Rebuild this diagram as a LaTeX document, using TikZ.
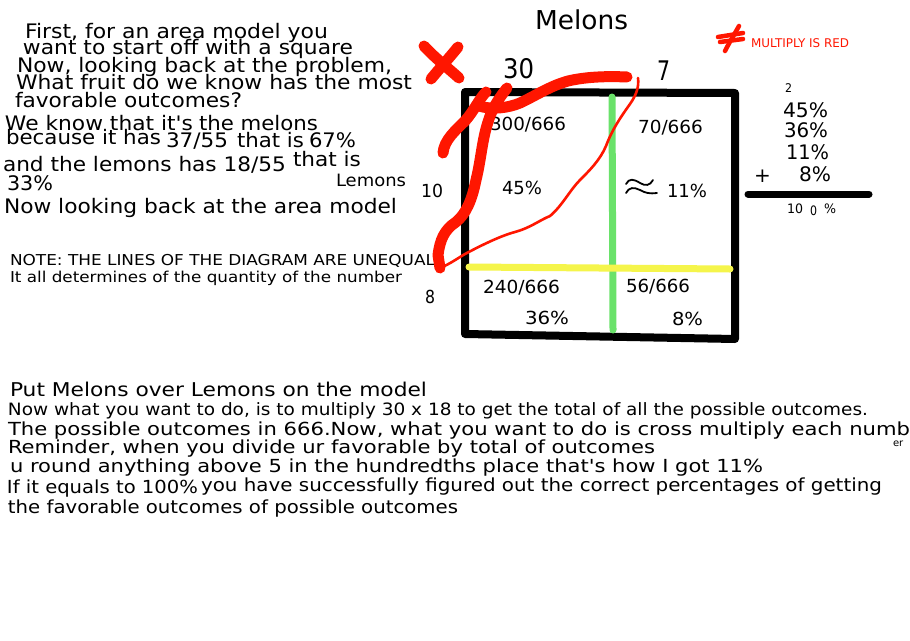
\documentclass[tikz,border=0pt]{standalone}
\usepackage{fontspec}
\usepackage{graphicx}
\setmainfont{DejaVu Sans}[Ligatures=TeXOff]
\definecolor{penred}{RGB}{255,22,0}
\definecolor{pengreen}{RGB}{106,226,106}
\definecolor{penyellow}{RGB}{245,245,75}
\newsavebox\fitbox
\newlength\fitlen
\newcommand\fitx[2]{\sbox\fitbox{#2}\setlength\fitlen{\wd\fitbox}\pgfmathsetmacro\fitf{#1/\fitlen}\scalebox{\fitf}[1]{\usebox\fitbox}}
\newcommand\fs[1]{\fontsize{#1}{#1}\selectfont}
\tikzset{
  txt/.style={anchor=base west, inner sep=0pt, outer sep=0pt},
  boxline/.style={line width=8pt, line cap=round, line join=round, black},
  thickred/.style={line width=11pt, penred, line cap=round, line join=round},
  thinred/.style={line width=2.6pt, penred, line cap=round, line join=round},
  starred/.style={line width=4.5pt, penred, line cap=round},
}
\begin{document}
\begin{tikzpicture}[x=1pt,y=-1pt]
\useasboundingbox[fill=white] (0,0) rectangle (910,640);

% ---------- left explanatory text ----------
\node[txt,font=\fs{20}] (l1) at (25,38) {\fitx{303}{First, for an area model you}};
\node[txt,font=\fs{20}] (l2) at (23,54) {\fitx{330}{want to start off with a square}};
\node[txt,font=\fs{20}] (l3) at (17,72) {\fitx{375}{Now, looking back at the problem,}};
\node[txt,font=\fs{20}] (l4) at (16,89) {\fitx{396}{What fruit do we know has the most}};
\node[txt,font=\fs{20}] (l5) at (15,107) {\fitx{227}{favorable outcomes?}};
\node[txt,font=\fs{20}] (l6a) at (5,130) {\fitx{188}{We know that it's}};
\node[txt,font=\fs{20}] (l6b) at (199,130) {\fitx{119}{the melons}};
\node[txt,font=\fs{20}] (l7a) at (6,144) {\fitx{155}{because it has}};
\node[txt,font=\fs{20}] (l7b) at (166,147) {\fitx{62}{37/55}};
\node[txt,font=\fs{20}] (l7c) at (237,147) {\fitx{67}{that is}};
\node[txt,font=\fs{20}] (l7d) at (309,147) {\fitx{47}{67\%}};
\node[txt,font=\fs{20}] (l8a) at (3,171) {\fitx{283}{and the lemons has 18/55}};
\node[txt,font=\fs{20}] (l8b) at (293,166) {\fitx{68}{that is}};
\node[txt,font=\fs{20}] (l9) at (7,190) {\fitx{46}{33\%}};
\node[txt,font=\fs{20}] (l10) at (4,213) {\fitx{393}{Now looking back at the area model}};
\node[txt,font=\fs{17}] (lem) at (336,186) {\fitx{70}{Lemons}};
\node[txt,font=\fs{18}] (ten) at (421,197) {\fitx{22}{10}};
\node[txt,font=\fs{15}] (note) at (10,265) {\fitx{425}{NOTE: THE LINES OF THE DIAGRAM ARE UNEQUAL}};
\node[txt,font=\fs{15}] (det) at (10,282) {\fitx{392}{It all determines of the quantity of the number}};
\node[txt,font=\fs{18}] (eight) at (425,303) {\fitx{10}{8}};

% ---------- area model ----------
\node[txt,font=\fs{26}] (mel) at (535,29) {\fitx{93}{Melons}};
\node[txt,font=\fs{27}] (thirty) at (503,78) {\fitx{31}{30}};
\node[txt,font=\fs{27}] (seven) at (657,80) {\fitx{13}{7}};

\coordinate (tl) at (465,92);
\coordinate (tr) at (735,93);
\coordinate (br) at (735,339);
\coordinate (bl) at (465,334);
\draw[boxline] (tl) -- (tr) -- (br) -- (bl) -- cycle;

\coordinate (gt) at (612,97);
\coordinate (gb) at (613,330);
\draw[line width=7pt, pengreen, line cap=round] (gt) -- (gb);
\coordinate (yl) at (469,267);
\coordinate (yr) at (730,269);
\draw[line width=7pt, penyellow, line cap=round] (yl) -- (yr);

\node[txt,font=\fs{18}] (c1) at (490,130) {\fitx{76}{300/666}};
\node[txt,font=\fs{18}] (c2) at (638,133) {\fitx{65}{70/666}};
\node[txt,font=\fs{18}] (p1) at (502,194) {\fitx{40}{45\%}};
\node[txt,font=\fs{18}] (p2) at (667,197) {\fitx{40}{11\%}};
\node[txt,font=\fs{18}] (c3) at (483,293) {\fitx{77}{240/666}};
\node[txt,font=\fs{18}] (p3) at (525,324) {\fitx{44}{36\%}};
\node[txt,font=\fs{18}] (c4) at (626,292) {\fitx{64}{56/666}};
\node[txt,font=\fs{18}] (p4) at (672,325) {\fitx{31}{8\%}};

% hand-drawn approximately-equal sign
\draw[line width=1.8pt, line cap=round] (626,184) .. controls (629,178) and (634,179) .. (640,183) .. controls (645,186) and (650,186) .. (653,180);
\draw[line width=1.8pt, line cap=round] (626,193) .. controls (629,187) and (634,187) .. (640,190) .. controls (645,193) and (650,194) .. (657,193);

% ---------- red marks ----------
\draw[thickred] (424,46) .. controls (435,58) and (448,68) .. (459,78);
\draw[thickred] (458,47) .. controls (450,57) and (440,68) .. (431,79);
% stroke rising from the left
\draw[thickred] (443,153) .. controls (444,140) and (456,130) .. (465,121)
  .. controls (474,111) and (479,99) .. (486,92);
% horizontal stroke to the right
\draw[thickred] (479,106) .. controls (492,110) and (508,108) .. (520,103)
  .. controls (535,96) and (550,86) .. (568,81)
  .. controls (585,77) and (605,76) .. (627,77);
% long descending stroke
\draw[thickred] (507,88) .. controls (500,97) and (492,108) .. (488,122)
  .. controls (482,140) and (481,160) .. (476,180)
  .. controls (472,200) and (466,214) .. (456,222)
  .. controls (444,230) and (440,240) .. (438,255)
  -- (440,268);
\draw[thinred] (440,268) .. controls (450,264) and (458,258) .. (465,254)
  .. controls (480,246) and (500,236) .. (515,232)
  .. controls (530,228) and (540,220) .. (550,216)
  .. controls (562,206) and (570,190) .. (580,180)
  .. controls (590,170) and (600,160) .. (606,146)
  .. controls (612,130) and (620,118) .. (630,104)
  .. controls (637,94) and (639,86) .. (638,78);

% asterisk legend
\draw[starred] (739,26) .. controls (734,35) and (729,43) .. (725,51);
\draw[starred] (718,37) -- (743,33);
\draw[starred] (720,42) -- (743,39);
\node[txt,font=\fs{12},text=penred] (legend) at (751,47) {\fitx{98}{MULTIPLY IS RED}};

% ---------- sum column ----------
\node[txt,font=\fs{12}] (carry) at (785,92) {\fitx{7}{2}};
\node[txt,font=\fs{20}] (s1) at (783,117) {\fitx{45}{45\%}};
\node[txt,font=\fs{20}] (s2) at (784,137) {\fitx{44}{36\%}};
\node[txt,font=\fs{20}] (s3) at (786,159) {\fitx{43}{11\%}};
\node[txt,font=\fs{20}] (plus) at (754,182) {+};
\node[txt,font=\fs{20}] (s4) at (799,181) {\fitx{32}{8\%}};
\coordinate (sl) at (748,194);
\coordinate (sr) at (869,194);
\draw[line width=7pt, line cap=round] (sl) -- (sr);
\node[txt,font=\fs{13}] (tot1) at (787,213) {\fitx{16}{10}};
\node[txt,font=\fs{13}] (tot2) at (810,215) {\fitx{7}{0}};
\node[txt,font=\fs{13}] (tot3) at (824,213) {\fitx{12}{\%}};

% ---------- bottom text ----------
\node[txt,font=\fs{19}] (b1) at (10,396) {\fitx{417}{Put Melons over Lemons on the model}};
\node[txt,font=\fs{17}] (b2) at (8,415) {\fitx{860}{Now what you want to do, is to multiply 30 x 18 to get the total of all the possible outcomes.}};
\node[txt,font=\fs{18}] (b3) at (8,435) {\fitx{902}{The possible outcomes in 666.Now, what you want to do is cross multiply each numb}};
\node[txt,font=\fs{10}] (b3e) at (893,446) {er};
\node[txt,font=\fs{18}] (b4) at (8,453) {\fitx{647}{Reminder, when you divide ur favorable by total of outcomes}};
\node[txt,font=\fs{18}] (b5) at (10,472) {\fitx{753}{u round anything above 5 in the hundredths place that's how I got 11\%}};
\node[txt,font=\fs{18}] (b6a) at (7,493) {\fitx{191}{If it equals to 100\%}};
\node[txt,font=\fs{18}] (b6b) at (201,491) {\fitx{681}{you have successfully figured out the correct percentages of getting}};
\node[txt,font=\fs{18}] (b7) at (8,513) {\fitx{450}{the favorable outcomes of possible outcomes}};
\end{tikzpicture}
\end{document}
